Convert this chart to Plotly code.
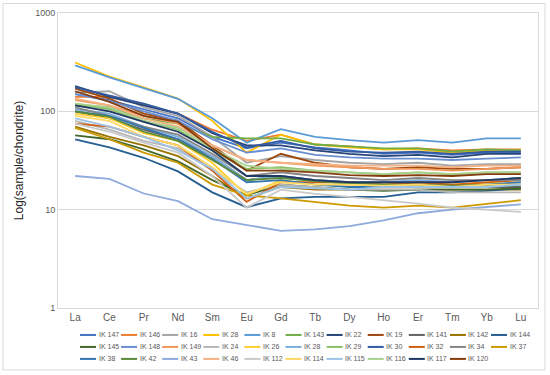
import plotly.graph_objects as go

elements = ["La", "Ce", "Pr", "Nd", "Sm", "Eu", "Gd", "Tb", "Dy", "Ho", "Er", "Tm", "Yb", "Lu"]

names = ["IK 147", "IK 146", "IK 16", "IK 28", "IK 8", "IK 143", "IK 22", "IK 19", "IK 141", "IK 142", "IK 144",
         "IK 145", "IK 148", "IK 149", "IK 24", "IK 26", "IK 28", "IK 29", "IK 30", "IK 32", "IK 34", "IK 37",
         "IK 38", "IK 42", "IK 43", "IK 46", "IK 112", "IK 114", "IK 115", "IK 116", "IK 117", "IK 120"]

colors = ["#4472C4", "#ED7D31", "#A5A5A5", "#FFC000", "#5B9BD5", "#70AD47", "#264478", "#9E480E", "#636363", "#997300", "#255E91",
          "#43682B", "#698ED0", "#F1975A", "#B7B7B7", "#FFCD33", "#7CAFDD", "#8CC168", "#335AA1", "#D26012", "#848484", "#CC9A00",
          "#3275B1", "#5A8A39", "#8FAADC", "#F4B183", "#C9C9C9", "#FFD966", "#9DC3E6", "#A9D18E", "#203864", "#843C0C"]

ik147 = [150, 130, 105, 85, 55, 42, 48, 43, 40, 37, 38, 36, 38, 38]
ik146 = [140, 140, 118, 95, 65, 50, 58, 46, 44, 41, 42, 40, 41, 41]
ik16 = [155, 160, 110, 90, 55, 30, 35, 32, 30, 29, 30, 28, 29, 29]
ik28a = [314, 225, 175, 135, 80, 38, 58, 46, 43, 41, 41, 38, 40, 40]
ik8 = [293, 222, 172, 134, 85, 48, 66, 55, 51, 48, 51, 48, 53, 53]
ik143 = [115, 110, 85, 75, 55, 53, 53, 46, 44, 42, 42, 39, 41, 40]
ik22 = [180, 140, 115, 95, 60, 45, 45, 40, 37, 35, 36, 34, 37, 37]
ik19 = [170, 135, 95, 80, 45, 25, 37, 30, 27, 26, 27, 26, 26, 27]
ik141 = [100, 85, 65, 52, 35, 20, 22, 20, 19, 18, 18, 17, 17, 17]
ik142 = [70, 55, 45, 35, 22, 13, 17, 16, 16, 16, 16, 16, 16, 16]
ik144 = [52, 43, 33.7, 24.5, 15, 10.6, 13, 13.5, 13.5, 13.5, 15, 15, 15.5, 16.5]
ik145 = [57, 52, 41, 31, 20, 14, 18, 17, 16, 15.5, 16, 16, 16, 16.5]
ik148 = [150, 128, 100, 80, 52, 38, 42, 36, 34, 33, 33, 32, 33, 34]
ik149 = [130, 115, 90, 75, 45, 32, 30, 28, 27, 26, 26, 25, 26, 27]
ik24 = [80, 65, 50, 42, 25, 15, 18, 17, 16, 16, 16, 15, 15, 15]
ik26 = [95, 85, 60, 50, 30, 14, 20, 18, 18, 18, 19, 18, 19, 20]
ik28b = [105, 95, 70, 55, 35, 20, 22, 20, 19, 19, 20, 19, 20, 21]
ik29 = [120, 105, 80, 65, 40, 26, 27, 25, 24, 23, 24, 23, 24, 24]
ik30 = [175, 145, 120, 95, 62, 43, 50, 42, 39, 38, 39, 37, 39, 39]
ik32 = [75, 70, 55, 45, 25, 12, 19, 19, 19, 18, 19, 18, 19, 20]
ik34 = [110, 90, 70, 58, 37, 22, 24, 22, 21, 20, 21, 20, 20, 20]
ik37 = [68, 52, 38, 30, 18, 14, 13, 12, 11, 10.5, 11, 10.5, 11.5, 12.5]
ik38 = [100, 90, 68, 52, 33, 19, 20, 18, 17, 17, 17, 17, 18, 19]
ik42 = [100, 88, 62, 50, 32, 20, 21, 19.5, 18.5, 18, 18, 17.5, 18, 18]
ik43 = [22, 20.6, 14.6, 12.2, 8.0, 7.0, 6.1, 6.3, 6.8, 7.8, 9.2, 10, 10.6, 11.3]
ik46 = [135, 115, 85, 70, 45, 32, 30, 29, 28, 28, 28, 27, 28, 28]
ik112 = [75, 62, 48, 38, 22, 10.5, 16, 14.5, 13.5, 12.5, 11.5, 10.5, 10, 9.5]
ik114 = [90, 80, 55, 45, 27, 14.5, 19, 18, 18, 17.5, 18, 17, 18, 18]
ik115 = [85, 70, 55, 40, 26, 13, 17, 16.5, 16, 17, 17, 17, 17, 18]
ik116 = [120, 110, 80, 68, 42, 28, 26, 25, 24, 23, 24, 23, 24, 24]
ik117 = [115, 100, 78, 62, 40, 22, 22, 20, 19, 19, 19, 19, 20, 21]
ik120 = [160, 125, 90, 78, 42, 25, 25, 24, 22.5, 22, 22.5, 22, 23, 23]

series = [ik147, ik146, ik16, ik28a, ik8, ik143, ik22, ik19, ik141, ik142, ik144,
          ik145, ik148, ik149, ik24, ik26, ik28b, ik29, ik30, ik32, ik34, ik37,
          ik38, ik42, ik43, ik46, ik112, ik114, ik115, ik116, ik117, ik120]

ytick_vals = [1, 10, 100, 1000]
ytick_text = ["1", "10", "100", "1000"]

fig = go.Figure()
for nm, col, vals in zip(names, colors, series):
    fig.add_trace(go.Scatter(x=elements, y=vals, name=nm, mode="lines",
                             line=dict(color=col, width=1.8)))

W, H = 550, 375
L, R, T, B = 58, 12, 12.5, 67
pw = W - L - R
ph = H - T - B

def px(x):
    return (x - L) / pw

def py(y):
    return (H - B - y) / ph

shapes = []
annotations = []
# outer chart border
shapes.append(dict(type="rect", xref="paper", yref="paper", x0=px(3), x1=px(545), y0=py(370), y1=py(3),
                   line=dict(color="#D9D9D9", width=1), layer="below"))
# custom legend (Excel style, short samples)
rows_per = [11, 11, 10]
idx = 0
for r, n in enumerate(rows_per):
    yy = 335 + r * 12
    for c in range(n):
        x0 = 80 + c * 41.1
        shapes.append(dict(type="line", xref="paper", yref="paper", x0=px(x0), x1=px(x0 + 16),
                           y0=py(yy), y1=py(yy), line=dict(color=colors[idx], width=2)))
        annotations.append(dict(xref="paper", yref="paper", x=px(x0 + 16.5), y=py(yy), text=names[idx],
                                showarrow=False, xanchor="left", yanchor="middle",
                                font=dict(size=7, color="#595959", family="Liberation Sans")))
        idx += 1

fig.update_layout(
    width=W, height=H,
    margin=dict(l=L, r=R, t=T, b=B, autoexpand=False),
    paper_bgcolor="white", plot_bgcolor="white",
    showlegend=False,
    font=dict(family="Liberation Sans", color="#595959"),
    xaxis=dict(type="category", range=[-0.5, 13.5], showgrid=False, ticks="",
               showline=True, linecolor="#D9D9D9", linewidth=1, mirror=True,
               tickfont=dict(size=10, color="#595959"), zeroline=False, automargin=False),
    yaxis=dict(type="log", range=[0, 3], tickvals=ytick_vals, ticktext=ytick_text,
               showgrid=True, gridcolor="#D9D9D9", gridwidth=1,
               showline=True, linecolor="#D9D9D9", linewidth=1, mirror=True,
               tickfont=dict(size=9, color="#595959"), ticks="", ticklen=0,
               title=dict(text="Log(sample/chondrite)", font=dict(size=12, color="#262626"), standoff=8),
               zeroline=False, automargin=False),
    shapes=shapes,
    annotations=annotations,
)

fig.write_html("out.html", config={"displayModeBar": False},
               post_script="document.body.style.margin='0';document.body.style.overflow='hidden';")
